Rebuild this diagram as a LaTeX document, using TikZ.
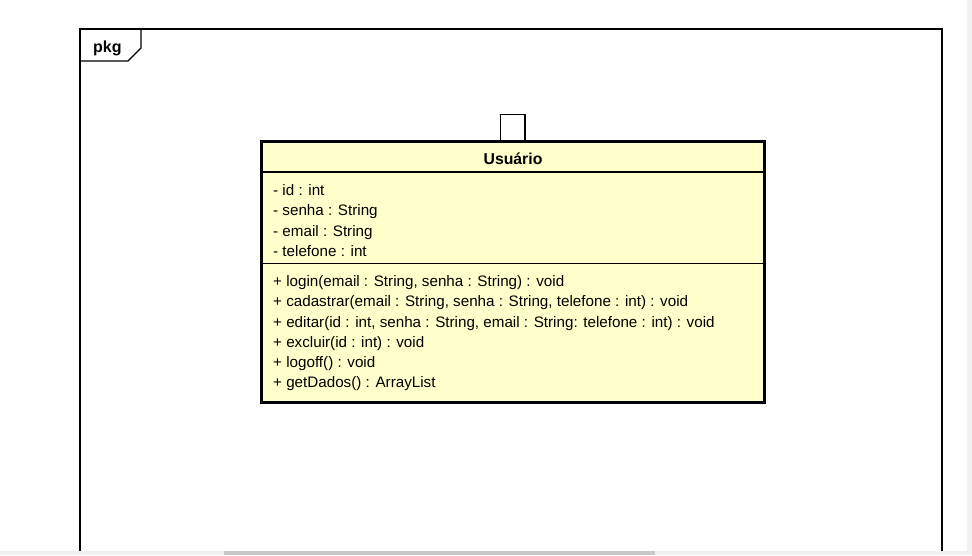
\documentclass[tikz,border=0pt]{standalone}
\usepackage{fontspec}
\setmainfont{Liberation Sans}
\usepackage{tikz}

\definecolor{classfill}{RGB}{255,255,204}
\definecolor{barback}{RGB}{240,240,240}
\definecolor{barthumb}{RGB}{200,200,200}

\begin{document}
\begin{tikzpicture}[x=1pt,y=-1pt,
    txt/.style={anchor=base west,inner sep=0pt,font=\fontsize{15.2}{18}\selectfont},
    bold/.style={anchor=base,inner sep=0pt,font=\fontsize{15.8}{18}\selectfont\bfseries}]
          \useasboundingbox (0,0) rectangle (972,555);
          % package frame
          \draw[line width=1.2pt] (80,551) -- (80,29) -- (942,29) -- (942,551);
          \draw[line width=1.2pt] (141,29) -- (141,48) -- (128,61) -- (80,61);
          \node[anchor=base west,inner sep=0pt,font=\fontsize{16}{18}\selectfont\bfseries] (pkg) at (93,52.3) {pkg};
          % class
          \draw[line width=1.2pt,fill=white] (500.5,114.5) rectangle (525,141);
          \draw[line width=3pt,fill=classfill] (261.5,141.5) rectangle (764.5,402.5);
          \draw[line width=1.2pt] (263,172) -- (763,172);
          \draw[line width=1.2pt] (263,263.5) -- (763,263.5);
          \node[bold] (nome) at (513,164.5) {Usuário};
          \node[txt] (a1) at (273,195.5) {- id : int};
          \node[txt] (a2) at (273,215.8) {- senha : String};
          \node[txt] (a3) at (273,236) {- email : String};
          \node[txt] (a4) at (273,256.3) {- telefone : int};
          \node[txt] (m1) at (273,286.5) {+ login(email : String, senha : String) : void};
          \node[txt] (m2) at (273,306.7) {+ cadastrar(email : String, senha : String, telefone : int) : void};
          \node[txt] (m3) at (273,327) {+ editar(id : int, senha : String, email : String: telefone : int) : void};
          \node[txt] (m4) at (273,347.2) {+ excluir(id : int) : void};
          \node[txt] (m5) at (273,367.4) {+ logoff() : void};
          \node[txt] (m6) at (273,387.6) {+ getDados() : ArrayList};
          % scroll bars
          \fill[barback] (0,551) rectangle (972,555);
          \fill[barthumb] (224,551) rectangle (655,555);
          \fill[barback] (967,0) rectangle (972,551);
        \end{tikzpicture}
\end{document}
